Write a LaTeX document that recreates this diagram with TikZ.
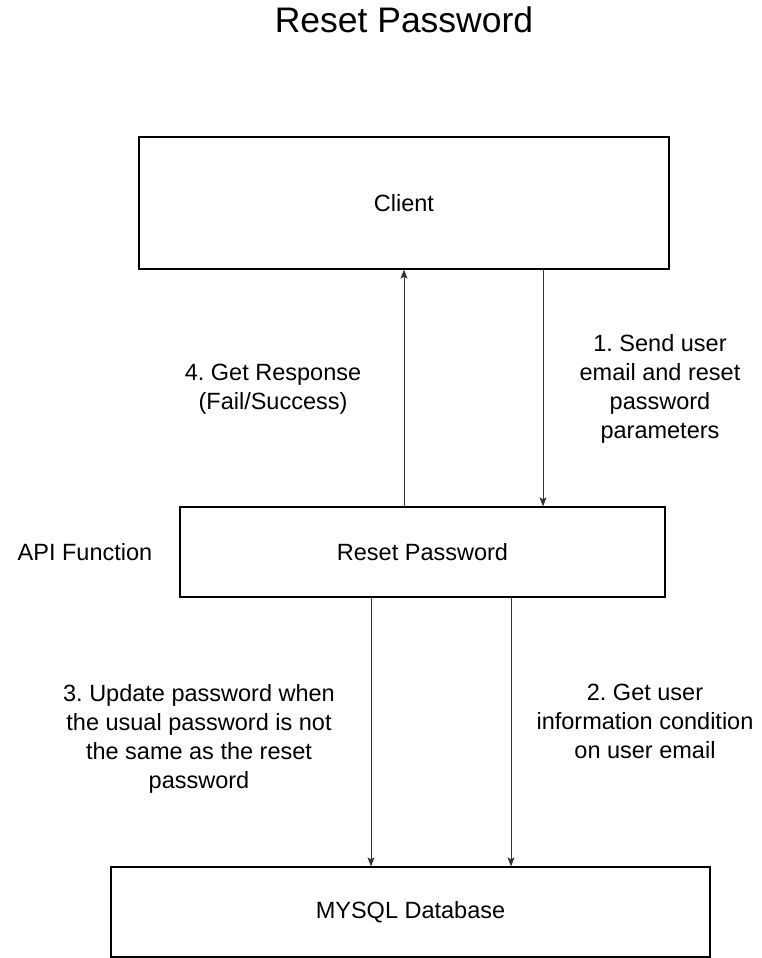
\documentclass[tikz,border=0pt]{standalone}
\usepackage{fontspec}
\setmainfont{Liberation Sans}
\usetikzlibrary{arrows.meta}
\frenchspacing
\begin{document}
\begin{tikzpicture}[x=1pt,y=-1pt,
  box/.style={draw=black,line width=1.3pt,inner sep=0pt},
  lbl/.style={align=center,font=\fontsize{23.5}{29}\selectfont,inner sep=0pt},
  conn/.style={draw=black!80,line width=1pt,-{Stealth[length=9pt,width=7pt,inset=2pt]}}]
\useasboundingbox (0,0) rectangle (761,958);
\node[font=\fontsize{35.5}{40}\selectfont,inner sep=0pt] (title) at (404,20) {Reset Password};
\node[box,minimum width=530pt,minimum height=132pt] (client) at (404,203) {};
\node[lbl] (clientt) at (404,203) {Client};
\node[box,minimum width=485pt,minimum height=90pt] (api) at (422.5,552) {};
\node[lbl] (apit) at (422.5,552) {Reset Password};
\node[box,minimum width=599pt,minimum height=90pt] (db) at (410.5,912) {};
\node[lbl] (dbt) at (410.5,912) {MYSQL Database};
\node[lbl] (apilbl) at (85,552) {API Function};
\draw[conn] (api.north -| 404,0) -- (client.south -| 404,0);
\draw[conn] (client.south -| 543,0) -- (api.north -| 543,0);
\draw[conn] (api.south -| 371,0) -- (db.north -| 371,0);
\draw[conn] (api.south -| 511,0) -- (db.north -| 511,0);
\node[lbl] (l1) at (660,389) {1. Send user\\email and reset\\password\\parameters};
\node[lbl] (l4) at (273,389) {4. Get Response\\(Fail/Success)};
\node[lbl] (l3) at (199,738.5) {3. Update password when\\the usual password is not\\the same as the reset\\password};
\node[lbl] (l2) at (645,721) {2. Get user\\information condition\\on user email};
\end{tikzpicture}
\end{document}
